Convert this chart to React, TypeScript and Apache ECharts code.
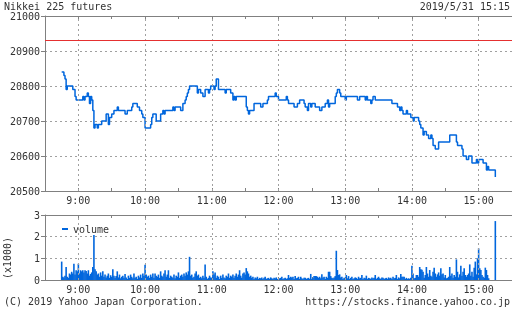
import React, { useEffect, useRef } from "react";
import * as echarts from "echarts";

const FONT = '"DejaVu Sans Mono", monospace';
const TEXT = "#333333";
const AXIS = "#808080";
const GRIDC = "#a0a0a0";
const BLUE = "#0066dd";
const RED = "#e53030";

const titleText = "Nikkei 225 futures";
const dateText = "2019/5/31 15:15";
const copyText = "(C) 2019 Yahoo Japan Corporation.";
const urlText = "https://stocks.finance.yahoo.co.jp";
const volUnit = "(x1000)";

const hourTicks = ["9:00", "10:00", "11:00", "12:00", "13:00", "14:00", "15:00"];
const refLevel = 20930;

const priceTimes = [
  "8:45", "8:47", "8:48", "8:49", "8:50", "8:55", "8:57", "8:58", "9:04", "9:05",
  "9:06", "9:08", "9:09", "9:10", "9:11", "9:12", "9:13", "9:14", "9:15", "9:17",
  "9:18", "9:21", "9:25", "9:27", "9:28", "9:30", "9:32", "9:35", "9:36", "9:42",
  "9:44", "9:48", "9:49", "9:53", "9:55", "9:57", "9:58", "10:00", "10:05", "10:06",
  "10:07", "10:10", "10:14", "10:16", "10:17", "10:18", "10:25", "10:26", "10:27", "10:32",
  "10:34", "10:36", "10:37", "10:38", "10:39", "10:40", "10:47", "10:48", "10:50", "10:52",
  "10:54", "10:57", "10:58", "10:59", "11:02", "11:03", "11:04", "11:06", "11:12", "11:13",
  "11:17", "11:19", "11:20", "11:21", "11:22", "11:31", "11:32", "11:33", "11:34", "11:38",
  "11:44", "11:46", "11:50", "11:51", "11:57", "11:58", "12:00", "12:07", "12:08", "12:09",
  "12:14", "12:17", "12:19", "12:23", "12:24", "12:26", "12:27", "12:29", "12:30", "12:33",
  "12:37", "12:39", "12:42", "12:44", "12:45", "12:46", "12:51", "12:52", "12:53", "12:55",
  "12:56", "13:00", "13:01", "13:11", "13:13", "13:18", "13:19", "13:20", "13:23", "13:24",
  "13:25", "13:27", "13:42", "13:47", "13:49", "13:50", "13:51", "13:52", "13:55", "13:56",
  "13:59", "14:01", "14:02", "14:06", "14:07", "14:08", "14:10", "14:11", "14:13", "14:15",
  "14:17", "14:18", "14:19", "14:21", "14:24", "14:34", "14:40", "14:41", "14:45", "14:46",
  "14:49", "14:51", "14:54", "14:58", "14:59", "15:00", "15:04", "15:07", "15:08", "15:09",
  "15:15",
];
const priceValues = [
  20840, 20830, 20820, 20790, 20800, 20790, 20770, 20760, 20770, 20760,
  20770, 20780, 20770, 20750, 20770, 20760, 20730, 20680, 20690, 20680,
  20690, 20700, 20720, 20690, 20710, 20720, 20730, 20740, 20730, 20720,
  20730, 20740, 20750, 20740, 20730, 20720, 20710, 20680, 20690, 20710,
  20720, 20700, 20720, 20730, 20720, 20730, 20740, 20730, 20740, 20730,
  20750, 20760, 20770, 20780, 20790, 20800, 20780, 20790, 20780, 20770,
  20790, 20780, 20790, 20800, 20790, 20800, 20820, 20790, 20780, 20790,
  20780, 20760, 20770, 20760, 20770, 20740, 20730, 20720, 20730, 20750,
  20740, 20750, 20760, 20770, 20780, 20770, 20760, 20770, 20760, 20750,
  20740, 20750, 20760, 20750, 20740, 20730, 20750, 20740, 20750, 20740,
  20730, 20740, 20750, 20760, 20740, 20750, 20770, 20780, 20790, 20780,
  20770, 20760, 20770, 20760, 20770, 20760, 20770, 20760, 20750, 20760,
  20770, 20760, 20750, 20740, 20730, 20740, 20730, 20720, 20730, 20720,
  20710, 20700, 20710, 20700, 20690, 20680, 20660, 20670, 20660, 20650,
  20660, 20650, 20630, 20620, 20640, 20660, 20640, 20630, 20620, 20600,
  20590, 20600, 20580, 20590, 20580, 20590, 20580, 20560, 20570, 20560,
  20540,
];

const volStart = ["8:45", "9:00", "10:00", "11:00", "12:00", "13:00", "14:00", "15:00"];
const vol0845 = [0.85, 0.15, 0.12, 0.2, 0.6, 0.15, 0.1, 0.3, 0.25, 0.38, 0.3, 0.75, 0.25, 0.45, 0.4];
const vol0900 = [
  0.75, 0.3, 0.45, 0.4, 0.45, 0.35, 0.45, 0.42, 0.3, 0.45,
  0.2, 0.28, 0.35, 0.6, 2.08, 0.5, 0.4, 0.25, 0.3, 0.15,
  0.35, 0.2, 0.4, 0.15, 0.25, 0.12, 0.2, 0.3, 0.1, 0.22,
  0.15, 0.5, 0.2, 0.1, 0.18, 0.4, 0.12, 0.25, 0.08, 0.15,
  0.2, 0.1, 0.28, 0.12, 0.05, 0.2, 0.1, 0.25, 0.15, 0.08,
  0.3, 0.1, 0.15, 0.05, 0.2, 0.12, 0.25, 0.1, 0.3, 0.2,
];
const vol1000 = [
  0.7, 0.25, 0.15, 0.2, 0.1, 0.25, 0.15, 0.3, 0.1, 0.3,
  0.2, 0.15, 0.25, 0.1, 0.4, 0.2, 0.15, 0.3, 0.45, 0.15,
  0.25, 0.45, 0.1, 0.2, 0.15, 0.1, 0.25, 0.08, 0.2, 0.15,
  0.35, 0.1, 0.2, 0.25, 0.15, 0.3, 0.2, 0.35, 0.25, 0.4,
  1.07, 0.2, 0.25, 0.1, 0.15, 0.3, 0.4, 0.2, 0.25, 0.1,
  0.15, 0.08, 0.2, 0.1, 0.72, 0.15, 0.05, 0.1, 0.2, 0.12,
];
const vol1100 = [
  0.1, 0.4, 0.25, 0.35, 0.1, 0.2, 0.15, 0.05, 0.2, 0.1,
  0.25, 0.12, 0.08, 0.2, 0.15, 0.3, 0.1, 0.2, 0.15, 0.25,
  0.1, 0.2, 0.3, 0.15, 0.25, 0.45, 0.2, 0.1, 0.3, 0.35,
  0.25, 0.55, 0.4, 0.3, 0.15, 0.2, 0.1, 0.15, 0.05, 0.12,
  0.08, 0.15, 0.05, 0.1, 0.08, 0.12, 0.05, 0.1, 0.15, 0.05,
  0.08, 0.1, 0.05, 0.12, 0.08, 0.05, 0.1, 0.08, 0.12, 0.05,
];
const vol1200 = [
  0.05, 0.08, 0.1, 0.15, 0.05, 0.08, 0.1, 0.05, 0.08, 0.23,
  0.1, 0.15, 0.12, 0.15, 0.05, 0.18, 0.08, 0.1, 0.15, 0.05,
  0.15, 0.08, 0.05, 0.1, 0.1, 0.05, 0.08, 0.1, 0.05, 0.28,
  0.05, 0.1, 0.18, 0.18, 0.18, 0.15, 0.1, 0.15, 0.08, 0.26,
  0.12, 0.15, 0.05, 0.15, 0.1, 0.38, 0.38, 0.18, 0.1, 0.08,
  0.12, 0.18, 1.35, 0.46, 0.23, 0.26, 0.12, 0.15, 0.05, 0.1,
];
const vol1300 = [
  0.1, 0.23, 0.08, 0.18, 0.05, 0.1, 0.15, 0.05, 0.08, 0.12,
  0.1, 0.05, 0.15, 0.08, 0.1, 0.23, 0.05, 0.1, 0.08, 0.2,
  0.05, 0.1, 0.08, 0.05, 0.12, 0.08, 0.1, 0.23, 0.05, 0.1,
  0.15, 0.08, 0.05, 0.12, 0.1, 0.05, 0.08, 0.1, 0.05, 0.12,
  0.08, 0.1, 0.05, 0.15, 0.08, 0.1, 0.23, 0.05, 0.12, 0.08,
  0.28, 0.15, 0.15, 0.15, 0.05, 0.1, 0.05, 0.08, 0.05, 0.1,
];
const vol1400 = [
  0.66, 0.3, 0.08, 0.1, 0.23, 0.23, 0.15, 0.6, 0.5, 0.47,
  0.38, 0.1, 0.23, 0.6, 0.3, 0.15, 0.46, 0.2, 0.15, 0.38,
  0.57, 0.3, 0.15, 0.26, 0.35, 0.2, 0.54, 0.26, 0.3, 0.12,
  0.23, 0.08, 0.1, 0.15, 0.6, 0.2, 0.3, 0.1, 0.23, 0.15,
  0.95, 0.38, 0.12, 0.26, 0.66, 0.2, 0.38, 0.54, 0.23, 0.15,
  0.23, 0.3, 0.72, 0.2, 0.38, 0.15, 0.57, 0.85, 0.26, 1.0,
];
const vol1500 = [1.46, 0.54, 0.46, 0.23, 0.15, 0.1, 0.57, 0.46, 0.23, 0.08, 0, 0, 0, 0, 0, 2.72];
const volBlocks = [vol0845, vol0900, vol1000, vol1100, vol1200, vol1300, vol1400, vol1500];

const toMin = (s: string) => {
  const [h, m] = s.split(":").map(Number);
  return h * 60 + m;
};

export default function App() {
  const ref = useRef<HTMLDivElement>(null);
  useEffect(() => {
    if (!ref.current) return;
    const chart = echarts.init(ref.current, undefined, { renderer: "svg" });

    const priceData = priceTimes.map((t, i) => [toMin(t), priceValues[i]]);
    const volData: number[][] = [];
    volBlocks.forEach((blk, bi) => {
      const s = toMin(volStart[bi]);
      blk.forEach((v, i) => {
        if (v > 0) volData.push([s + i, v]);
      });
    });
    const hourLines = hourTicks.map((t) => ({ xAxis: toMin(t) }));

    const xAxisFor = (gridIndex: number, top: boolean) => ({
      type: "value",
      gridIndex,
      position: top ? "top" : "bottom",
      min: 510,
      max: 930,
      interval: 30,
      axisLine: { show: true, onZero: false, lineStyle: { color: AXIS, width: 1 } },
      axisTick: { show: true, inside: true, length: 3, lineStyle: { color: AXIS } },
      axisLabel: {
        show: !top,
        margin: 4,
        color: TEXT,
        fontFamily: FONT,
        fontSize: 10,
        showMinLabel: false,
        showMaxLabel: false,
        formatter: (v: number) => (v % 60 === 0 ? `${v / 60}:00` : ""),
      },
      splitLine: { show: false },
    });

    const yAxisFor = (gridIndex: number, min: number, max: number, interval: number) => ({
      type: "value",
      gridIndex,
      min,
      max,
      interval,
      axisLine: { show: true, lineStyle: { color: AXIS, width: 1 } },
      axisTick: { show: true, inside: false, length: 4, lineStyle: { color: AXIS } },
      axisLabel: {
        margin: 5,
        color: TEXT,
        fontFamily: FONT,
        fontSize: 10,
        formatter: (v: number) => String(v),
      },
      splitLine: {
        show: true,
        showMinLine: false,
        showMaxLine: false,
        lineStyle: { color: GRIDC, type: [2, 3], width: 1 },
      },
    });

    const gridMark = {
      silent: true,
      symbol: ["none", "none"],
      label: { show: false },
      lineStyle: { color: GRIDC, type: [2, 3], width: 1 },
      data: hourLines,
    };

    chart.setOption({
      animation: false,
      grid: [
        { left: 45, top: 16, width: 468, height: 175 },
        { left: 45, top: 215, width: 468, height: 65 },
      ],
      xAxis: [xAxisFor(0, false), xAxisFor(0, true), xAxisFor(1, false), xAxisFor(1, true)],
      yAxis: [yAxisFor(0, 20500, 21000, 100), yAxisFor(1, 0, 3, 1)],
      legend: {
        data: ["volume"],
        left: 57,
        top: 219,
        icon: "rect",
        itemWidth: 6,
        itemHeight: 2,
        selectedMode: false,
        textStyle: { fontFamily: FONT, fontSize: 10, color: TEXT },
      },
      graphic: [
        { type: "text", x: 4, y: 6.5, style: { text: titleText, font: `10px ${FONT}`, fill: TEXT, textAlign: "left", textVerticalAlign: "middle" } },
        { type: "text", x: 510, y: 6.5, style: { text: dateText, font: `10px ${FONT}`, fill: TEXT, textAlign: "right", textVerticalAlign: "middle" } },
        { type: "text", x: 4, y: 301.5, style: { text: copyText, font: `10px ${FONT}`, fill: TEXT, textAlign: "left", textVerticalAlign: "middle" } },
        { type: "text", x: 510, y: 301.5, style: { text: urlText, font: `10px ${FONT}`, fill: TEXT, textAlign: "right", textVerticalAlign: "middle" } },
        { type: "text", x: 7, y: 258, rotation: Math.PI / 2, style: { text: volUnit, font: `10px ${FONT}`, fill: TEXT, textAlign: "center", textVerticalAlign: "middle" } },
      ],
      series: [
        { type: "line", xAxisIndex: 0, yAxisIndex: 0, data: [], z: 1, markLine: gridMark },
        {
          name: "price",
          type: "line",
          xAxisIndex: 0,
          yAxisIndex: 0,
          step: "end",
          showSymbol: false,
          z: 3,
          lineStyle: { color: BLUE, width: 1.5 },
          itemStyle: { color: BLUE },
          data: priceData,
          markLine: {
            silent: true,
            symbol: ["none", "none"],
            label: { show: false },
            lineStyle: { color: RED, type: "solid", width: 1.2 },
            data: [{ yAxis: refLevel }],
          },
        },
        { type: "line", xAxisIndex: 2, yAxisIndex: 1, data: [], z: 1, markLine: gridMark },
        {
          name: "volume",
          type: "bar",
          xAxisIndex: 2,
          yAxisIndex: 1,
          barWidth: 1.6,
          z: 3,
          itemStyle: { color: BLUE },
          data: volData,
        },
      ],
    });
    return () => chart.dispose();
  }, []);
  return <div ref={ref} style={{ position: "fixed", left: 0, top: 0, width: 512, height: 310 }} />;
}
